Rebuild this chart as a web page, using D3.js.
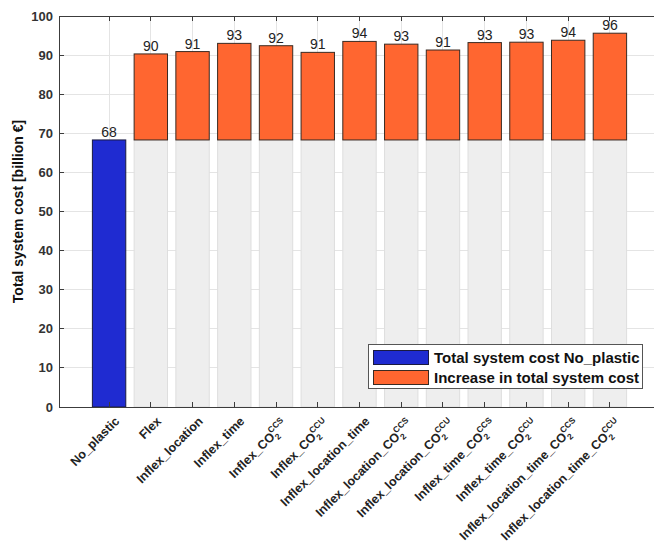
<!DOCTYPE html>
<html>
<head>
<meta charset="utf-8">
<script src="https://cdn.jsdelivr.net/npm/d3@7"></script>
<style>
  html, body { margin: 0; padding: 0; background: #fff; }
  svg { display: block; font-family: "Liberation Sans", Arial, sans-serif; }
</style>
</head>
<body>
<svg id="chart" width="654" height="550"></svg>
<script>
// ---- data ----
const categories = [
  {base: "No_plastic"},
  {base: "Flex"},
  {base: "Inflex_location"},
  {base: "Inflex_time"},
  {base: "Inflex_CO", sup: "CCS"},
  {base: "Inflex_CO", sup: "CCU"},
  {base: "Inflex_location_time"},
  {base: "Inflex_location_CO", sup: "CCS"},
  {base: "Inflex_location_CO", sup: "CCU"},
  {base: "Inflex_time_CO", sup: "CCS"},
  {base: "Inflex_time_CO", sup: "CCU"},
  {base: "Inflex_location_time_CO", sup: "CCS"},
  {base: "Inflex_location_time_CO", sup: "CCU"}
];
const baseCost = 68.3;                 // Total system cost No_plastic
const totalCost = [68.3, 90.3, 90.9, 93.0, 92.4, 90.7, 93.5, 92.8, 91.3, 93.2, 93.3, 93.8, 95.6];
const valueLabels = ["68", "90", "91", "93", "92", "91", "94", "93", "91", "93", "93", "94", "96"];
const yTicks = [0, 10, 20, 30, 40, 50, 60, 70, 80, 90, 100];
const legendLabels = ["Total system cost No_plastic", "Increase in total system cost"];
const colors = {blue: "#1f2bd1", orange: "#ff6630", grey: "#eeeeee"};

// ---- layout ----
const svg = d3.select("#chart");
const pL = 59, pR = 660, pT = 16, pB = 407;
const idx = categories.map((d, i) => i);
const x = d3.scalePoint().domain(idx).range([pL, pR]).padding(1.2);
const bw = x.step() * 0.8;
const y = d3.scaleLinear().domain([0, 100]).range([pB, pT]);

// gridlines
const grid = svg.append("g");
grid.selectAll("line.h").data(yTicks).join("line")
  .attr("x1", pL).attr("x2", 654).attr("y1", d => y(d)).attr("y2", d => y(d))
  .attr("stroke", "#e4e4e4").attr("stroke-width", 1).attr("shape-rendering", "crispEdges");
grid.selectAll("line.v").data(idx).join("line")
  .attr("x1", d => x(d)).attr("x2", d => x(d)).attr("y1", pT).attr("y2", pB)
  .attr("stroke", "#e4e4e4").attr("stroke-width", 1).attr("shape-rendering", "crispEdges");

// grey base bars (for scenarios)
svg.append("g").selectAll("rect").data(idx.slice(1)).join("rect")
  .attr("x", d => x(d) - bw / 2).attr("width", bw)
  .attr("y", y(baseCost)).attr("height", y(0) - y(baseCost))
  .attr("fill", colors.grey).attr("stroke", "#dedede").attr("stroke-width", 1);

// increase bars
svg.append("g").selectAll("rect").data(idx.slice(1)).join("rect")
  .attr("x", d => x(d) - bw / 2).attr("width", bw)
  .attr("y", d => y(totalCost[d])).attr("height", d => y(baseCost) - y(totalCost[d]))
  .attr("fill", colors.orange).attr("stroke", "#3a2a22").attr("stroke-width", 1);

// base scenario bar
svg.append("rect")
  .attr("x", x(0) - bw / 2).attr("width", bw)
  .attr("y", y(totalCost[0])).attr("height", y(0) - y(totalCost[0]))
  .attr("fill", colors.blue).attr("stroke", "#1a1a40").attr("stroke-width", 1);

// value labels
svg.append("g").selectAll("text").data(idx).join("text")
  .attr("x", d => x(d)).attr("y", d => y(totalCost[d]) - 3)
  .attr("text-anchor", "middle").attr("font-size", 14).attr("fill", "#222")
  .text(d => valueLabels[d]);

// axes lines
const axisColor = "#3c3c3c";
svg.append("line").attr("x1", pL).attr("x2", 654).attr("y1", pB + 0.5).attr("y2", pB + 0.5)
  .attr("stroke", axisColor).attr("stroke-width", 1);
svg.append("line").attr("x1", pL).attr("x2", 654).attr("y1", pT + 0.5).attr("y2", pT + 0.5)
  .attr("stroke", axisColor).attr("stroke-width", 1);
svg.append("line").attr("x1", pL + 0.5).attr("x2", pL + 0.5).attr("y1", pT).attr("y2", pB + 1)
  .attr("stroke", axisColor).attr("stroke-width", 1);

// ticks
const tk = svg.append("g").attr("stroke", axisColor).attr("stroke-width", 1).attr("shape-rendering", "crispEdges");
tk.selectAll("line.b").data(idx).join("line")
  .attr("x1", d => x(d)).attr("x2", d => x(d)).attr("y1", pB).attr("y2", pB - 5);
tk.selectAll("line.t").data(idx).join("line")
  .attr("x1", d => x(d)).attr("x2", d => x(d)).attr("y1", pT).attr("y2", pT + 5);
tk.selectAll("line.l").data(yTicks).join("line")
  .attr("x1", pL).attr("x2", pL + 5).attr("y1", d => y(d)).attr("y2", d => y(d));

// y tick labels
svg.append("g").selectAll("text").data(yTicks).join("text")
  .attr("x", pL - 6).attr("y", d => y(d) + 4.5)
  .attr("text-anchor", "end").attr("font-size", 13).attr("font-weight", "bold").attr("fill", "#333")
  .text(d => d);

// y axis title
svg.append("text")
  .attr("transform", `translate(23,${(pT + pB) / 2}) rotate(-90)`)
  .attr("text-anchor", "middle").attr("font-size", 14).attr("font-weight", "bold").attr("fill", "#111")
  .text("Total system cost [billion €]");

// x labels
const xl = svg.append("g").selectAll("text").data(idx).join("text")
  .attr("transform", d => {
    const c = categories[d];
    const dx = c.sup ? 12 : 11, dy = c.sup ? 18 : 15;
    return `translate(${x(d) + dx},${pB + dy}) rotate(-45)`;
  })
  .attr("text-anchor", "end").attr("font-size", 12.5).attr("font-weight", "bold").attr("fill", "#222");
xl.each(function(d) {
  const c = categories[d];
  const t = d3.select(this);
  t.append("tspan").text(c.base);
  if (c.sup) {
    t.append("tspan").attr("font-size", 8.5).attr("dy", 4).text("2");
    t.append("tspan").attr("font-size", 8.5).attr("dx", -5).attr("dy", -10).text(c.sup);
  }
});

// legend
const lg = svg.append("g");
lg.append("rect").attr("x", 368.5).attr("y", 344.5).attr("width", 274).attr("height", 44)
  .attr("fill", "#fff").attr("stroke", "#555").attr("stroke-width", 1);
const legColors = [colors.blue, colors.orange];
const legStroke = ["#1a1a40", "#3a2a22"];
legendLabels.forEach((lab, i) => {
  lg.append("rect").attr("x", 373.5).attr("y", 350.5 + i * 20).attr("width", 55).attr("height", 14)
    .attr("fill", legColors[i]).attr("stroke", legStroke[i]).attr("stroke-width", 1);
  lg.append("text").attr("x", 434).attr("y", 362.5 + i * 20)
    .attr("font-size", 15).attr("font-weight", "bold").attr("fill", "#111").text(lab);
});
</script>
</body>
</html>
